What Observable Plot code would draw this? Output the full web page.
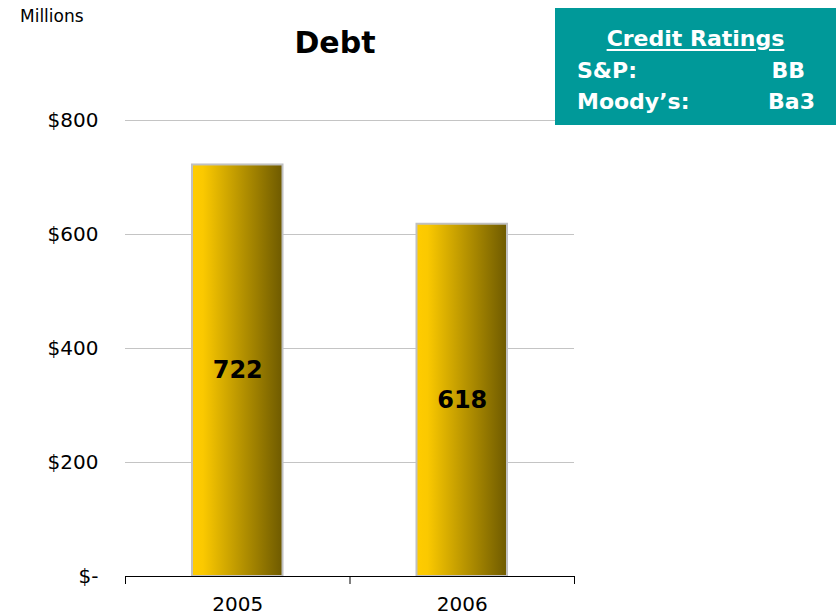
<!DOCTYPE html>
<html>
<head>
<meta charset="utf-8">
<script src="https://cdn.jsdelivr.net/npm/d3@7"></script>
<script src="https://cdn.jsdelivr.net/npm/@observablehq/plot@0.6"></script>
<style>
  html, body { margin: 0; padding: 0; background: white; }
  #wrap { position: relative; width: 836px; height: 616px; font-family: "DejaVu Sans", sans-serif; }
  #wrap svg { position: absolute; left: 0; top: 0; }
  .abs { position: absolute; white-space: nowrap; }
  #units { left: 20px; top: 6px; font-size: 17px; }
  #title { left: 235px; width: 200px; text-align: center; top: 25px; font-size: 30px; font-weight: bold; }
  #box { left: 555px; top: 8px; width: 281px; height: 117px; background: #009999; color: white; font-weight: bold; font-size: 22px; }
  #box .abs { line-height: 1; }
</style>
</head>
<body>
<div id="wrap">
  <div id="units" class="abs">Millions</div>
  <div id="title" class="abs">Debt</div>
  <div id="box" class="abs">
    <div class="abs" style="left:0;width:281px;text-align:center;top:20px;text-decoration:underline;text-underline-offset:3px;">Credit Ratings</div>
    <div class="abs" style="left:22px;top:52px;">S&amp;P:</div>
    <div class="abs" style="right:31px;top:52px;">BB</div>
    <div class="abs" style="left:22px;top:83px;">Moody’s:</div>
    <div class="abs" style="right:21px;top:83px;">Ba3</div>
  </div>
</div>
<script>
const years = ["2005", "2006"];
const debt = [722, 618];
const yTicks = [0, 200, 400, 600, 800];

const data = years.map((y, i) => ({year: y, i, value: debt[i]}));

const chart = Plot.plot({
  width: 836,
  height: 616,
  marginLeft: 125,
  marginRight: 262,
  marginTop: 120,
  marginBottom: 40,
  x: {type: "linear", domain: [0, years.length], axis: null},
  y: {domain: [0, 800], axis: null},
  style: {fontFamily: "DejaVu Sans", fontSize: "20px", color: "black", background: "transparent"},
  marks: [
    Plot.gridY(yTicks.filter(v => v > 0), {stroke: "#c4c4c4", strokeOpacity: 1}),
    Plot.axisY({ticks: yTicks, tickSize: 0, tickPadding: 27, label: null, fontSize: 20,
      tickFormat: d => d === 0 ? "$-" : "$" + d}),
    Plot.rectY(data, {x1: "i", x2: d => d.i + 1, y: "value", fill: "url(#gold)",
      stroke: "#c0c0c0", strokeWidth: 2, insetLeft: 67, insetRight: 67}),
    Plot.ruleY([0], {stroke: "black"}),
    Plot.axisX({ticks: d3.range(years.length + 1), tickSize: 8, tickFormat: () => "", label: null, stroke: "black"}),
    Plot.axisX({ticks: years.map((y, i) => i + 0.5), tickSize: 0, tickPadding: 20, label: null, fontSize: 20,
      tickFormat: d => years[Math.floor(d)]}),
    Plot.text(data, {x: d => d.i + 0.5, y: d => d.value / 2, text: d => String(d.value),
      fontWeight: "bold", fontSize: 24, fill: "black"})
  ]
});

const defs = d3.select(chart).insert("defs", ":first-child");
const g = defs.append("linearGradient").attr("id", "gold").attr("x1", "0").attr("x2", "1").attr("y1", "0").attr("y2", "0");
g.append("stop").attr("offset", "0").attr("stop-color", "#ffcc00");
g.append("stop").attr("offset", "0.12").attr("stop-color", "#fbc900");
g.append("stop").attr("offset", "1").attr("stop-color", "#6e5a00");

document.getElementById("wrap").insertBefore(chart, document.getElementById("wrap").firstChild);
</script>
</body>
</html>
